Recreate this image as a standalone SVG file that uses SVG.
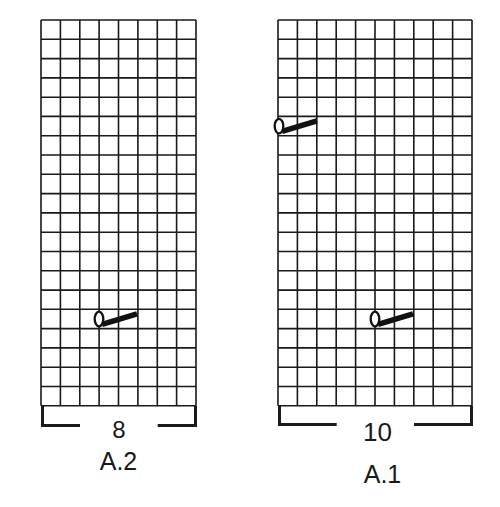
<svg xmlns="http://www.w3.org/2000/svg" width="500" height="507" viewBox="0 0 500 507">
<defs>
<style>
.grid{fill:none;stroke:#1a1a1a;stroke-width:1.6}
.brk{fill:none;stroke:#1a1a1a;stroke-width:3}
.lbl{font-family:"Liberation Sans",Arial,sans-serif;fill:#1a1a1a;text-anchor:middle}
.ell{fill:#fff;stroke:#111;stroke-width:2.3}
.bar{stroke:#111;stroke-width:5.5}
</style>
<g id="sym">
<line class="bar" x1="3" y1="15" x2="38" y2="4.5"/>
<ellipse class="ell" cx="0" cy="9.7" rx="4.3" ry="7.3"/>
</g>
</defs>
<rect width="500" height="507" fill="#fff"/>
<g id="chart-A2">
<path class="grid" d="M41 20H196M41 39.3H196M41 58.6H196M41 77.9H196M41 97.2H196M41 116.4H196M41 135.7H196M41 155H196M41 174.3H196M41 193.6H196M41 212.9H196M41 232.2H196M41 251.5H196M41 270.8H196M41 290.1H196M41 309.3H196M41 328.6H196M41 347.9H196M41 367.2H196M41 386.5H196M41 405.8H196
M41 20V405.8M60.4 20V405.8M79.8 20V405.8M99.1 20V405.8M118.5 20V405.8M137.9 20V405.8M157.3 20V405.8M176.6 20V405.8M196 20V405.8"/>
<use href="#sym" x="99" y="309.3"/>
<path class="brk" d="M42.5 405.8V425.5H80M157.7 425.5H195.5V405.8"/>
<text class="lbl" x="119" y="437.5" font-size="24">8</text>
<text class="lbl" x="118.5" y="469.5" font-size="25">A.2</text>
</g>
<g id="chart-A1">
<path class="grid" d="M278 20H472M278 39.3H472M278 58.6H472M278 77.9H472M278 97.2H472M278 116.4H472M278 135.7H472M278 155H472M278 174.3H472M278 193.6H472M278 212.9H472M278 232.2H472M278 251.5H472M278 270.8H472M278 290.1H472M278 309.3H472M278 328.6H472M278 347.9H472M278 367.2H472M278 386.5H472M278 405.8H472
M278 20V405.8M297.4 20V405.8M316.8 20V405.8M336.2 20V405.8M355.6 20V405.8M375 20V405.8M394.4 20V405.8M413.8 20V405.8M433.2 20V405.8M452.6 20V405.8M472 20V405.8"/>
<use href="#sym" x="279" y="116.4"/>
<use href="#sym" x="375" y="309.3"/>
<path class="brk" d="M279.5 405.8V424.5H336.7M414 424.5H471.5V405.8"/>
<text class="lbl" x="377.5" y="441" font-size="26">10</text>
<text class="lbl" x="382.5" y="483" font-size="25">A.1</text>
</g>
</svg>
